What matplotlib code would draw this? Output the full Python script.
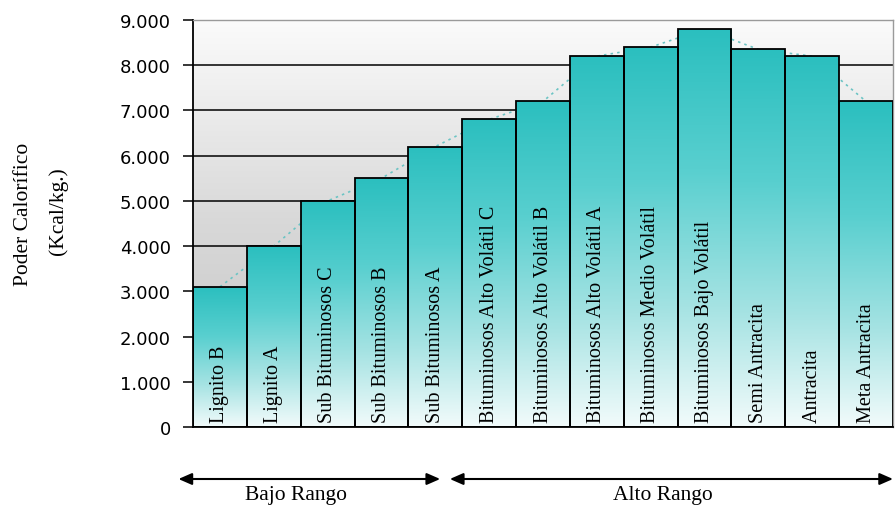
import numpy as np
import matplotlib
matplotlib.use("Agg")
import matplotlib.pyplot as plt
from matplotlib.colors import LinearSegmentedColormap
from matplotlib.patches import Rectangle
from matplotlib.ticker import FuncFormatter

# Coal ranks and their calorific value (Kcal/kg)
categories = [
    "Lignito B", "Lignito A", "Sub Bituminosos C", "Sub Bituminosos B",
    "Sub Bituminosos A", "Bituminosos Alto Volátil C", "Bituminosos Alto Volátil B",
    "Bituminosos Alto Volátil A", "Bituminosos Medio Volátil",
    "Bituminosos Bajo Volátil", "Semi Antracita", "Antracita", "Meta Antracita",
]
values = [3100, 4000, 5000, 5500, 6200, 6800, 7200, 8200, 8400, 8800, 8350, 8200, 7200]
y_ticks = [0, 1000, 2000, 3000, 4000, 5000, 6000, 7000, 8000, 9000]
range_groups = ["Bajo Rango", "Alto Rango"]

SERIF = ["Liberation Serif", "DejaVu Serif"]
plt.rcParams["font.family"] = SERIF

fig = plt.figure(figsize=(8.96, 5.10), dpi=100)
ax = fig.add_axes([193 / 896, 1 - 428 / 510, 700 / 896, 407 / 510])

n = len(values)

# plot-area background: grey at the bottom fading to white at the top
bg = LinearSegmentedColormap.from_list("bg", ["#c4c4c4", "#d8d8d8", "#fbfbfb"])
grad = np.linspace(0, 1, 256).reshape(-1, 1)
ax.imshow(grad, cmap=bg, origin="lower", aspect="auto",
          extent=(-0.5, n - 0.5, 0, 9000), zorder=0)

# horizontal grid lines
for t in y_ticks[1:-1]:
    ax.axhline(t, color="black", lw=1.1, zorder=1)

# dotted trend line through the bar tops
x = np.arange(n)
ax.plot(x, values, ls=(0, (1.5, 2.5)), color="#6cc4c4", lw=1.2, zorder=1.5)

# bars with a teal-to-white vertical gradient
bar_cmap = LinearSegmentedColormap.from_list(
    "bar", [(0.0, "#f2fbfb"), (0.3, "#a6e3e3"), (0.65, "#58cfcf"), (1.0, "#2bbfbf")])
for i, v in enumerate(values):
    left = i - 0.5
    im = ax.imshow(grad, cmap=bar_cmap, origin="lower", aspect="auto",
                   extent=(left, left + 1, 0, v), zorder=2)
    rect = Rectangle((left, 0), 1, v, facecolor="none", edgecolor="black",
                     lw=1.3, zorder=3)
    ax.add_patch(rect)
    im.set_clip_path(rect)
    ax.text(i, 110, categories[i], rotation=90, ha="center", va="bottom",
            fontsize=14.5, color="black", zorder=4)

ax.set_xlim(-0.5, n - 0.5)
ax.set_ylim(0, 9000)

# axes styling
ax.set_xticks([])
ax.set_yticks(y_ticks)
ax.yaxis.set_major_formatter(FuncFormatter(lambda v, p: f"{int(v):,}".replace(",", ".")))
ax.tick_params(axis="y", direction="out", length=7, width=1.1, pad=9,
               labelsize=13, colors="black")
for lbl in ax.get_yticklabels():
    lbl.set_family(["DejaVu Sans"])
for side in ("left", "bottom"):
    ax.spines[side].set_color("black")
    ax.spines[side].set_linewidth(1.3)
for side in ("top", "right"):
    ax.spines[side].set_color("#9a9a9a")
    ax.spines[side].set_linewidth(1.0)

# y-axis title in two lines
fig.text(24 / 896, 1 - 214 / 510, "Poder Calorífico", rotation=90,
         ha="center", va="center", fontsize=15.5)
fig.text(58 / 896, 1 - 211 / 510, "(Kcal/kg.)", rotation=90,
         ha="center", va="center", fontsize=15.5)

# rank group arrows below the axis
arrow_y = 1 - 480 / 510
text_y = 1 - 496 / 510
spans = [(-0.77, 4.09), (4.27, 12.5)]
label_x = [1.41, 8.23]
for label, (x0, x1), lx in zip(range_groups, spans, label_x):
    ax.annotate("", xy=(x1, arrow_y), xytext=(x0, arrow_y),
                xycoords=("data", "figure fraction"),
                textcoords=("data", "figure fraction"),
                arrowprops=dict(arrowstyle="<|-|>,head_length=0.8,head_width=0.35",
                                color="black", lw=1.5, shrinkA=0, shrinkB=0),
                annotation_clip=False)
    ax.annotate(label, xy=(lx, text_y),
                xycoords=("data", "figure fraction"),
                ha="center", va="center", fontsize=15.5, annotation_clip=False)

fig.savefig("out.png", dpi=100)
